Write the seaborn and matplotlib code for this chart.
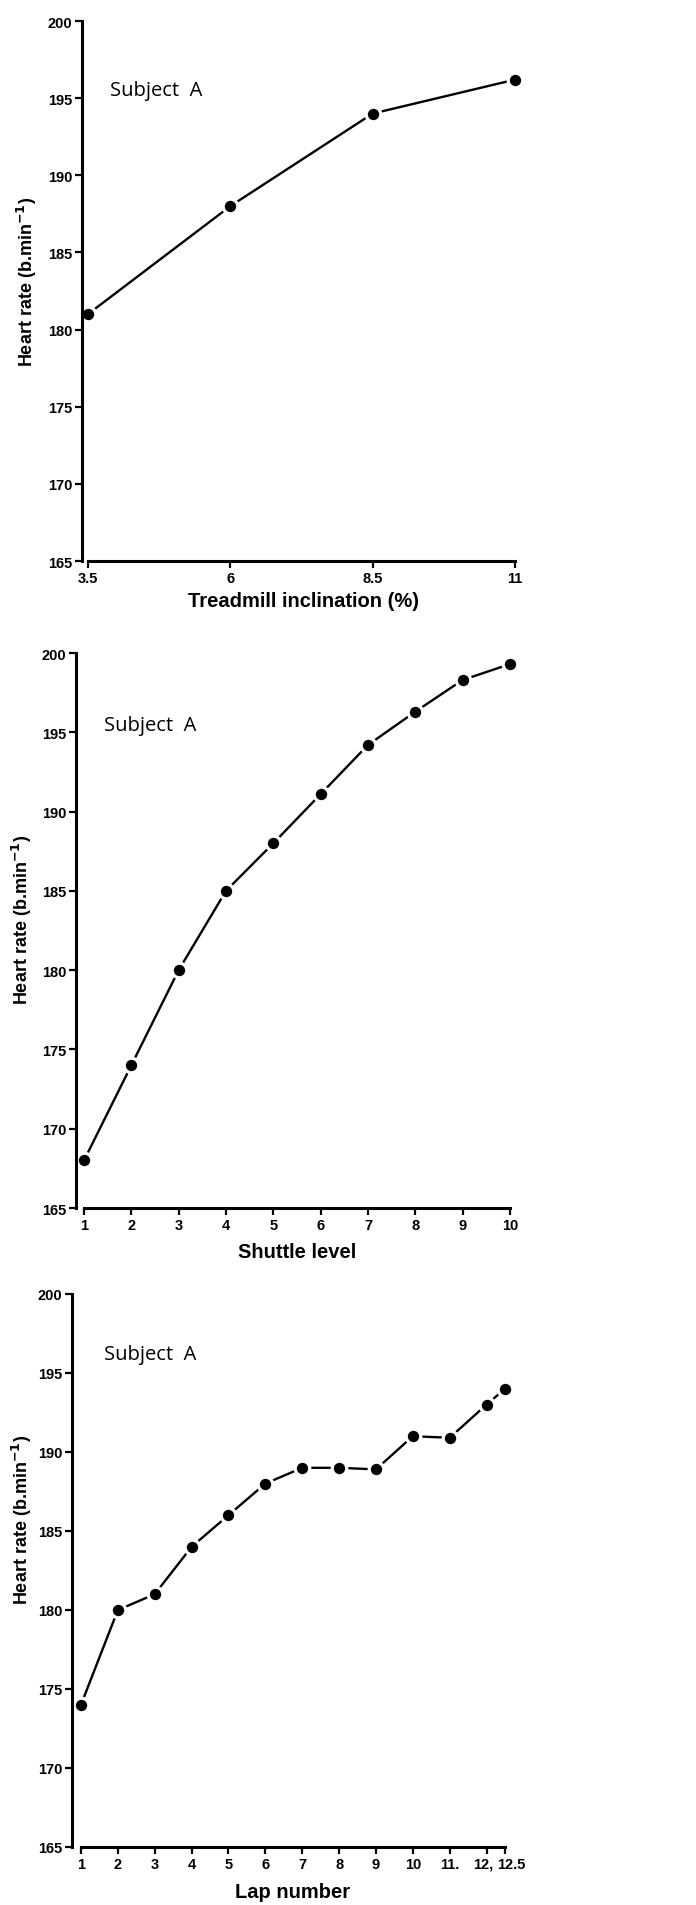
import matplotlib
matplotlib.use('Agg')
import matplotlib.pyplot as plt
import matplotlib.transforms as mtransforms
import seaborn as sns

# Panel 1: treadmill
incline = [3.5, 6, 8.5, 11]
incline_hr = [181, 188, 194, 196.2]
incline_labels = ['3.5', '6', '8.5', '11']

# Panel 2: shuttle test
shuttle = [1, 2, 3, 4, 5, 6, 7, 8, 9, 10]
shuttle_hr = [168, 174, 180, 185, 188, 191.1, 194.2, 196.3, 198.3, 199.3]
shuttle_labels = [str(v) for v in shuttle]

# Panel 3: laps
laps = [1, 2, 3, 4, 5, 6, 7, 8, 9, 10, 11, 12, 12.5]
laps_hr = [174, 180, 181, 184, 186, 188, 189, 189, 188.9, 191, 190.9, 193, 194]
laps_labels = ['1', '2', '3', '4', '5', '6', '7', '8', '9', '10', '11.', '12,', '12.5']

y_ticks = [165, 170, 175, 180, 185, 190, 195, 200]

W, H = 696, 1906
sns.set_theme(style='white')
plt.rcParams['font.family'] = ['Liberation Sans', 'DejaVu Sans']

fig = plt.figure(figsize=(W / 100, H / 100), dpi=100)


def px_box(left, top, right, bottom):
    return [left / W, 1 - bottom / H, (right - left) / W, (bottom - top) / H]


def draw_panel(box, x, y, xlim, ticklabels, xlabel, ylab_px, xlab_px, subj_px):
    ax = fig.add_axes(px_box(*box))
    sns.lineplot(x=x, y=y, ax=ax, color='black', lw=1.7, marker='o',
                 markersize=10.5, markerfacecolor='black',
                 markeredgecolor='white', markeredgewidth=2.3, clip_on=False)
    ax.set_xlim(*xlim)
    ax.set_ylim(165, 200)
    ax.set_yticks(y_ticks)
    ax.set_yticklabels([str(t) for t in y_ticks])
    ax.set_xticks(x)
    ax.set_xticklabels(ticklabels)
    sns.despine(ax=ax)
    for side in ['left', 'bottom']:
        ax.spines[side].set_linewidth(2.2)
        ax.spines[side].set_color('black')
    ax.spines['bottom'].set_bounds(x[0], x[-1])
    ax.tick_params(axis='both', direction='out', length=5, width=1.6,
                   color='black', labelsize=10.5, pad=2,
                   bottom=True, left=True, labelcolor='black')
    for lab in ax.get_xticklabels() + ax.get_yticklabels():
        lab.set_fontweight('bold')
    ax.set_ylabel('Heart rate (b.min$^{\\mathbf{-1}}$)', fontsize=13,
                  fontweight='bold', color='black')
    ax.yaxis.set_label_coords(ylab_px[0] / W, 1 - ylab_px[1] / H,
                              transform=fig.transFigure)
    ax.yaxis.label.set_va('center')
    ax.set_xlabel(xlabel, fontsize=14.5, fontweight='bold', color='black')
    ax.xaxis.set_label_coords(xlab_px[0] / W, 1 - xlab_px[1] / H,
                              transform=fig.transFigure)
    ax.xaxis.label.set_va('center')
    ax.text(subj_px[0] / W, 1 - subj_px[1] / H, 'Subject  A',
            transform=fig.transFigure, fontsize=14.5, family='Open Sans',
            ha='left', va='center', color='black')
    ax.set_facecolor('white')
    return ax


draw_panel((82, 22, 520, 562), incline, incline_hr, (3.395, 11.088),
           incline_labels, 'Treadmill inclination (%)',
           (27, 282), (303, 602), (110, 91))

draw_panel((76, 654, 515, 1209), shuttle, shuttle_hr, (0.831, 10.106),
           shuttle_labels, 'Shuttle level',
           (22, 920), (297, 1253), (104, 726))

ax3 = draw_panel((72, 1295, 510, 1848), laps, laps_hr, (0.756, 12.636),
                 laps_labels, 'Lap number',
                 (22, 1520), (293, 1893), (104, 1355))

# nudge the crowded last two lap labels apart
xl = ax3.get_xticklabels()
xl[-2].set_transform(xl[-2].get_transform() +
                     mtransforms.ScaledTranslation(-3 / 100, 0, fig.dpi_scale_trans))
xl[-1].set_transform(xl[-1].get_transform() +
                     mtransforms.ScaledTranslation(6 / 100, 0, fig.dpi_scale_trans))

fig.savefig('out.png', dpi=100, facecolor='white')
